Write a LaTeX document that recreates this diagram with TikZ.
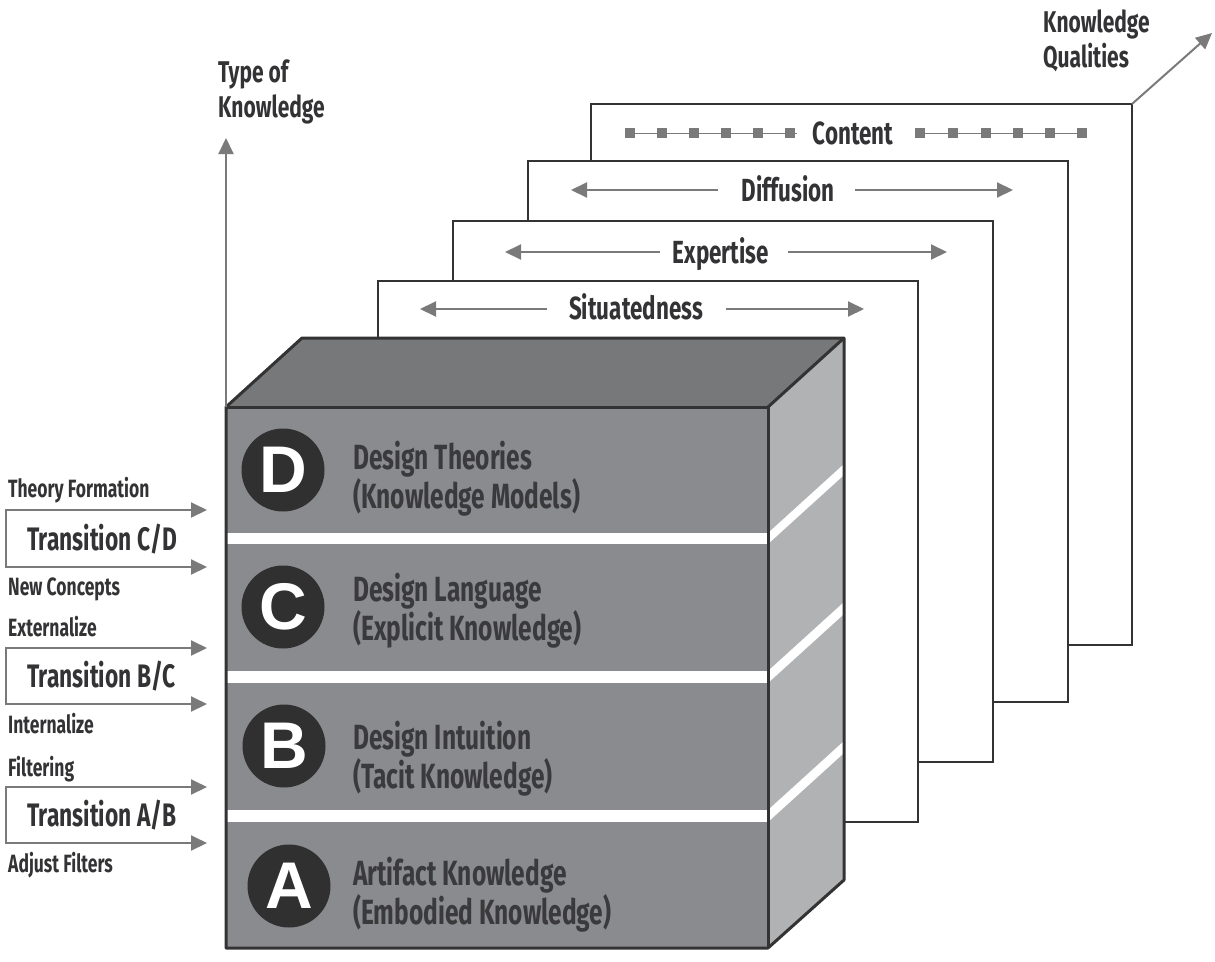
\documentclass[tikz,border=0pt]{standalone}
\usepackage{fontspec}
\setmainfont[FakeStretch=0.7]{Fira Sans}
\newfontfamily\letterfont{Liberation Sans}
\usetikzlibrary{arrows.meta}

\begin{document}
\begin{tikzpicture}[x=1pt,y=-1pt,
  garrow/.style={draw=arrowgray,line width=2pt,-{Triangle[length=16pt,width=15pt]}},
  bracket/.style={draw=arrowgray,line width=2pt,{Triangle[length=16pt,width=15pt]}-{Triangle[length=16pt,width=15pt]}},
  frame/.style={draw=edge,line width=2pt,fill=white},
  quality/.style={anchor=base,inner sep=0pt,text=labeltext,font=\bfseries\fontsize{32}{32}\selectfont},
  axislabel/.style={anchor=base west,inner sep=0pt,align=left,text=labeltext,font=\bfseries\fontsize{30}{35}\selectfont},
  sidelabel/.style={anchor=base west,inner sep=0pt,text=labeltext,font=\bfseries\fontsize{25}{25}\selectfont},
  transition/.style={anchor=base west,inner sep=0pt,text=labeltext,font=\bfseries\fontsize{32.5}{32.5}\selectfont},
  layerlabel/.style={anchor=base west,inner sep=0pt,align=left,text=layertext,font=\bfseries\fontsize{35}{32}\selectfont},
  badge/.style={circle,fill=badgegray,minimum size=83pt,inner sep=0pt,text=white,font=\letterfont\bfseries\fontsize{66}{66}\selectfont}]
% Define colours
\definecolor{edge}{RGB}{51,51,51}
\definecolor{arrowgray}{RGB}{122,122,122}
\definecolor{frontgray}{RGB}{138,139,143}
\definecolor{topgray}{RGB}{119,120,122}
\definecolor{sidegray}{RGB}{177,178,180}
\definecolor{labeltext}{RGB}{51,51,53}
\definecolor{layertext}{RGB}{58,58,60}
\definecolor{badgegray}{RGB}{48,48,48}

\useasboundingbox (0,0) rectangle (1215,961);

% Draw quality frames, back to front
\draw[frame] (591,104) rectangle (1132,645);
\draw[frame] (528,161) rectangle (1068,702);
\draw[frame] (453,221) rectangle (993,762);
\draw[frame] (378,281) rectangle (918,822);

% Quality labels
\node[quality] (content) at (853,144) {Content};
\node[quality] (diffusion) at (788,201) {Diffusion};
\node[quality] (expertise) at (721,263) {Expertise};
\node[quality] (situatedness) at (636,319) {Situatedness};

% Content line with squares
\draw[arrowgray,line width=1pt] (625,133) -- (797,133);
\draw[arrowgray,line width=1pt] (915,133) -- (1086,133);
\foreach \x in {630,662,694,726,758,790,920,953,986,1018,1050,1082}
  \fill[arrowgray] (\x-5,128) rectangle (\x+5,138);

% Quality arrows
\coordinate (diffL) at (571,190); \coordinate (diffR) at (1013,190);
\coordinate (expL) at (505,252); \coordinate (expR) at (947,252);
\coordinate (situL) at (420,309); \coordinate (situR) at (864,309);
\draw[garrow] (718,190) -- (diffL);
\draw[garrow] (855,190) -- (diffR);
\draw[garrow] (660,252) -- (expL);
\draw[garrow] (788,252) -- (expR);
\draw[garrow] (547,309) -- (situL);
\draw[garrow] (726,309) -- (situR);

% Knowledge qualities axis
\coordinate (corner) at (1132,104);
\coordinate (qualTip) at (1212,33);
\draw[garrow] (corner) -- (qualTip);
\node[axislabel] (qualities) at (1043,67) {Knowledge\\Qualities};

% Knowledge cube
\coordinate (f1) at (226,407);
\coordinate (f2) at (768,407);
\coordinate (f3) at (768,948);
\coordinate (f4) at (226,948);
\coordinate (b1) at (302,338);
\coordinate (b2) at (844,338);
\coordinate (b3) at (844,880);
\fill[topgray] (f1) -- (b1) -- (b2) -- (f2) -- cycle;
\fill[sidegray] (f2) -- (b2) -- (b3) -- (f3) -- cycle;
\fill[frontgray] (f1) rectangle (f3);

% White gaps between layers
\fill[white] (226,533) rectangle (768,544);
\fill[white] (226,671) rectangle (768,683);
\fill[white] (226,810) rectangle (768,822);
\fill[white] (768,533) -- (844,464) -- (844,475) -- (768,544) -- cycle;
\fill[white] (768,671) -- (844,602) -- (844,614) -- (768,683) -- cycle;
\fill[white] (768,810) -- (844,741) -- (844,753) -- (768,822) -- cycle;

\draw[edge,line width=3pt,line join=round] (f4) -- (f1) -- (b1) -- (b2) -- (b3) -- (f3) -- cycle;
\draw[edge,line width=3pt,line join=round] (f1) -- (f2) -- (f3);
\draw[edge,line width=3pt] (f2) -- (b2);

% Type of knowledge axis
\coordinate (typeTip) at (226,138);
\draw[garrow] (f1) -- (typeTip);
\node[axislabel] (types) at (218,117) {Type of\\Knowledge};

% Layers
\node[badge] (badgeD) at (283,470) {D};
\node[badge] (badgeC) at (283,607) {C};
\node[badge] (badgeB) at (284,746) {B};
\node[badge] (badgeA) at (289,886) {A};
\node[layerlabel] (layerD) at (353,508) {Design Theories\\(Knowledge Models)};
\node[layerlabel] (layerC) at (353,640) {Design Language\\(Explicit Knowledge)};
\node[layerlabel] (layerB) at (353,788) {Design Intuition\\(Tacit Knowledge)};
\node[layerlabel] (layerA) at (353,924) {Artifact Knowledge\\(Embodied Knowledge)};

% Transitions
\coordinate (cdTop) at (207,510); \coordinate (cdBot) at (207,567);
\coordinate (bcTop) at (207,648); \coordinate (bcBot) at (207,704);
\coordinate (abTop) at (207,787); \coordinate (abBot) at (207,843);
\draw[bracket] (cdTop) -- (6,510) -- (6,567) -- (cdBot);
\draw[bracket] (bcTop) -- (6,648) -- (6,704) -- (bcBot);
\draw[bracket] (abTop) -- (6,787) -- (6,843) -- (abBot);
\node[transition] (transCD) at (27,550) {Transition C/D};
\node[transition] (transBC) at (27,687) {Transition B/C};
\node[transition] (transAB) at (27,826) {Transition A/B};
\node[sidelabel] (theory) at (8,497) {Theory Formation};
\node[sidelabel] (concepts) at (8,595) {New Concepts};
\node[sidelabel] (extern) at (8,636) {Externalize};
\node[sidelabel] (intern) at (8,733) {Internalize};
\node[sidelabel] (filter) at (8,776) {Filtering};
\node[sidelabel] (adjust) at (8,872) {Adjust Filters};
\end{tikzpicture}
\end{document}
